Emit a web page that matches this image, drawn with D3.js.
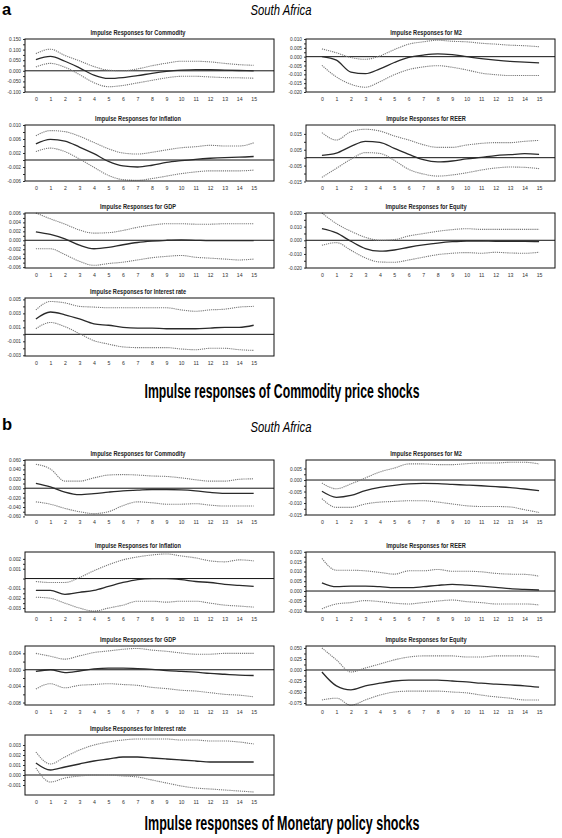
<!DOCTYPE html>
<html><head><meta charset="utf-8">
<script src="https://cdn.jsdelivr.net/npm/d3@7"></script>
<style>body{margin:0;background:#fff}svg{display:block}</style>
</head><body>
<svg id="c" width="562" height="838"></svg>
<script>
// ---------- data ----------
const periods = [0,1,2,3,4,5,6,7,8,9,10,11,12,13,14,15];
const panelTitles = ["Impulse Responses for Commodity","Impulse Responses for M2","Impulse Responses for Inflation","Impulse Responses for REER","Impulse Responses for GDP","Impulse Responses for Equity","Impulse Responses for Interest rate"];
const figureLetters = ["a","b"];
const countryTitle = "South Africa";
const shockTitles = ["Impulse responses of Commodity price shocks","Impulse responses of Monetary policy shocks"];

// (a) commodity price shock
const aCommodityResp  = [0.053,0.068,0.045,0.014,-0.020,-0.036,-0.032,-0.023,-0.012,-0.003,0.003,0.006,0.005,0.003,0.0015,0.000];
const aCommodityUpper = [0.081,0.102,0.072,0.047,0.020,0.003,0.000,0.009,0.024,0.036,0.045,0.045,0.042,0.035,0.029,0.026];
const aCommodityLower = [0.018,0.035,0.017,-0.018,-0.056,-0.075,-0.069,-0.057,-0.045,-0.033,-0.026,-0.026,-0.029,-0.032,-0.033,-0.035];
const aCommodityTicks = ["0.150","0.100","0.050","0.000","-0.050","-0.100"];
const aCommodityRange = [-0.100,0.150];

const aM2Resp  = [0,-0.002,-0.0087,-0.0096,-0.0069,-0.0033,-0.0004,0.0009,0.0016,0.0011,0,-0.0011,-0.002,-0.0027,-0.0031,-0.0035];
const aM2Upper = [0.0044,0.0022,-0.0005,-0.0015,0.0004,0.004,0.0071,0.0084,0.0093,0.0087,0.0084,0.0076,0.0071,0.0065,0.0062,0.0056];
const aM2Lower = [-0.0049,-0.0115,-0.0156,-0.0173,-0.0142,-0.0102,-0.0073,-0.0058,-0.0051,-0.006,-0.0075,-0.0093,-0.0102,-0.0107,-0.0107,-0.0107];
const aM2Ticks = ["0.010","0.005","0.000","-0.005","-0.010","-0.015","-0.020"];
const aM2Range = [-0.020,0.010];

const aInflationResp  = [0.0046,0.0059,0.0054,0.0037,0.0018,-0.0004,-0.0017,-0.002,-0.0015,-0.0007,-0.0002,0.0002,0.0005,0.0007,0.0008,0.001];
const aInflationUpper = [0.0069,0.0084,0.0081,0.0068,0.005,0.0032,0.002,0.0017,0.0022,0.0029,0.0035,0.0038,0.0042,0.004,0.004,0.0049];
const aInflationLower = [0.0024,0.0034,0.0024,0.0003,-0.0021,-0.0044,-0.0056,-0.0058,-0.0053,-0.0046,-0.0039,-0.0034,-0.0031,-0.0031,-0.0031,-0.0029];
const aInflationTicks = ["0.010","0.006","0.002","-0.002","-0.006"];
const aInflationRange = [-0.006,0.010];

const aReerResp  = [0.0015,0.0029,0.0071,0.0103,0.0097,0.0059,0.0021,-0.0013,-0.0027,-0.0021,-0.0008,0.0002,0.0013,0.0019,0.0025,0.0021];
const aReerUpper = [0.0158,0.0111,0.0164,0.0179,0.0168,0.0137,0.0111,0.0082,0.0065,0.0065,0.008,0.009,0.0095,0.0095,0.0103,0.0109];
const aReerLower = [-0.0124,-0.0067,-0.001,0.0032,0.0027,-0.0017,-0.0074,-0.0103,-0.0116,-0.0109,-0.0095,-0.0078,-0.0065,-0.0059,-0.0061,-0.0069];
const aReerTicks = ["0.015","0.005","-0.005","-0.015"];
const aReerRange = [-0.0147,0.0206];

const aGdpResp  = [0.0019,0.0013,0.0003,-0.0011,-0.0019,-0.0016,-0.001,-0.0005,-0.0002,0,0.0001,0,-0.0001,-0.0001,-0.0001,-0.0001];
const aGdpUpper = [0.0061,0.0048,0.0036,0.0023,0.0016,0.0017,0.0022,0.0029,0.0034,0.0037,0.0037,0.0036,0.0036,0.0037,0.0037,0.0037];
const aGdpLower = [-0.0019,-0.0019,-0.0032,-0.0047,-0.0056,-0.0052,-0.0049,-0.0044,-0.0039,-0.0036,-0.0034,-0.0038,-0.004,-0.0042,-0.0044,-0.0042];
const aGdpTicks = ["0.006","0.004","0.002","0.000","-0.002","-0.004","-0.006"];
const aGdpRange = [-0.0062,0.0061];

const aEquityResp  = [0.0085,0.0054,-0.0007,-0.0061,-0.008,-0.0071,-0.0051,-0.0034,-0.002,-0.001,-0.0005,-0.0005,-0.0007,-0.0007,-0.0007,-0.001];
const aEquityUpper = [0.020,0.0122,0.0066,0.0022,0,0.0005,0.0032,0.0049,0.0066,0.0078,0.0085,0.008,0.008,0.008,0.008,0.008];
const aEquityLower = [-0.0037,-0.0017,-0.0073,-0.0129,-0.0159,-0.0161,-0.0144,-0.0124,-0.0105,-0.0095,-0.009,-0.0095,-0.0088,-0.0093,-0.0095,-0.0088];
const aEquityTicks = ["0.020","0.010","0.000","-0.010","-0.020"];
const aEquityRange = [-0.0203,0.020];

const aInterestResp  = [0.0022,0.0032,0.0028,0.0022,0.0015,0.0013,0.001,0.0009,0.0009,0.0008,0.0008,0.0008,0.0009,0.001,0.001,0.0013];
const aInterestUpper = [0.0035,0.0047,0.0045,0.004,0.0039,0.0038,0.0038,0.0038,0.0038,0.0038,0.0035,0.0033,0.0035,0.0036,0.0039,0.004];
const aInterestLower = [0.0008,0.0017,0.0011,0.0001,-0.0009,-0.0014,-0.0018,-0.0019,-0.0019,-0.0019,-0.0021,-0.0022,-0.002,-0.002,-0.0022,-0.0023];
const aInterestTicks = ["0.005","0.003","0.001","-0.001","-0.003"];
const aInterestRange = [-0.0031,0.0052];

// (b) monetary policy shock
const bCommodityResp  = [0.0103,0.0028,-0.0083,-0.0138,-0.0117,-0.0083,-0.0055,-0.0041,-0.0028,-0.0028,-0.0034,-0.0055,-0.009,-0.011,-0.011,-0.011];
const bCommodityUpper = [0.051,0.041,0.015,0.015,0.022,0.028,0.029,0.028,0.026,0.025,0.022,0.018,0.015,0.015,0.019,0.020];
const bCommodityLower = [-0.029,-0.034,-0.043,-0.050,-0.054,-0.050,-0.037,-0.029,-0.031,-0.034,-0.034,-0.033,-0.036,-0.038,-0.038,-0.038];
const bCommodityTicks = ["0.060","0.040","0.020","0.000","-0.020","-0.040","-0.060"];
const bCommodityRange = [-0.057,0.060];

const bM2Resp  = [-0.0049,-0.0075,-0.0067,-0.0046,-0.0032,-0.0023,-0.0017,-0.0015,-0.0016,-0.0019,-0.0022,-0.0025,-0.0029,-0.0033,-0.0039,-0.0046];
const bM2Upper = [-0.0013,-0.0038,-0.0017,0.0009,0.0035,0.0052,0.007,0.007,0.0067,0.0067,0.0071,0.0074,0.0074,0.0077,0.0077,0.007];
const bM2Lower = [-0.0081,-0.0119,-0.0119,-0.0104,-0.0096,-0.0093,-0.009,-0.009,-0.0096,-0.0104,-0.0112,-0.0115,-0.0115,-0.0117,-0.0129,-0.0141];
const bM2Ticks = ["0.005","0.000","-0.005","-0.010","-0.015"];
const bM2Range = [-0.0152,0.0087];

const bInflationResp  = [-0.0012,-0.0012,-0.0016,-0.0014,-0.0012,-0.0008,-0.0004,-0.0001,0,0,-0.0001,-0.0003,-0.0004,-0.0006,-0.0007,-0.0008];
const bInflationUpper = [-0.0003,-0.0004,-0.0004,0.0001,0.0008,0.0014,0.0019,0.0022,0.0024,0.0025,0.0023,0.0021,0.0018,0.0017,0.0019,0.0018];
const bInflationLower = [-0.0019,-0.002,-0.0025,-0.003,-0.0033,-0.003,-0.0027,-0.0023,-0.0023,-0.0024,-0.0023,-0.0023,-0.0025,-0.0027,-0.0028,-0.0029];
const bInflationTicks = ["0.002","0.001","-0.001","-0.002","-0.003"];
const bInflationRange = [-0.0034,0.0027];

const bReerResp  = [0.0042,0.0022,0.0025,0.0025,0.0022,0.0017,0.0017,0.0022,0.0029,0.0034,0.003,0.0025,0.0019,0.0012,0.0008,0.0005];
const bReerUpper = [0.0166,0.0106,0.0106,0.0103,0.0095,0.0086,0.0103,0.0103,0.011,0.0101,0.0101,0.0098,0.009,0.0086,0.0085,0.0076];
const bReerLower = [-0.0091,-0.0066,-0.0059,-0.0049,-0.0054,-0.0062,-0.0066,-0.0059,-0.0051,-0.0046,-0.0054,-0.0059,-0.0066,-0.0066,-0.0066,-0.0071];
const bReerTicks = ["0.020","0.015","0.010","0.005","0.000","-0.005","-0.010"];
const bReerRange = [-0.0107,0.0199];

const bGdpResp  = [-0.0004,0,-0.0007,-0.0003,0.0002,0.0004,0.0004,0.0003,0.0001,-0.0002,-0.0004,-0.0006,-0.0009,-0.0011,-0.0013,-0.0014];
const bGdpUpper = [0.004,0.0033,0.0026,0.0034,0.0042,0.0046,0.005,0.0052,0.0048,0.0045,0.0041,0.0038,0.0038,0.004,0.004,0.004];
const bGdpLower = [-0.0047,-0.0034,-0.0044,-0.0038,-0.0036,-0.0034,-0.0036,-0.0038,-0.0043,-0.0046,-0.005,-0.0052,-0.0056,-0.006,-0.0062,-0.0066];
const bGdpTicks = ["0.004","0.000","-0.004","-0.008"];
const bGdpRange = [-0.0086,0.0058];

const bEquityResp  = [-0.0045,-0.036,-0.045,-0.036,-0.030,-0.025,-0.023,-0.023,-0.023,-0.025,-0.027,-0.030,-0.032,-0.034,-0.036,-0.039];
const bEquityUpper = [0.050,0.023,-0.0045,0.0045,0.0136,0.023,0.0295,0.032,0.032,0.032,0.0295,0.0295,0.032,0.032,0.032,0.0295];
const bEquityLower = [-0.068,-0.064,-0.080,-0.068,-0.057,-0.050,-0.048,-0.048,-0.048,-0.050,-0.052,-0.057,-0.061,-0.064,-0.068,-0.068];
const bEquityTicks = ["0.050","0.025","0.000","-0.025","-0.050","-0.075"];
const bEquityRange = [-0.0795,0.0545];

const bInterestResp  = [0.0012,0.0005,0.0008,0.0011,0.0014,0.0016,0.0018,0.0018,0.0017,0.0016,0.0015,0.0014,0.0013,0.0013,0.0013,0.0013];
const bInterestUpper = [0.0023,0.0011,0.0018,0.0025,0.003,0.0033,0.0035,0.0036,0.0036,0.0036,0.0035,0.0035,0.0034,0.0034,0.0033,0.0031];
const bInterestLower = [0.0007,-0.0007,-0.0003,-0.0001,0,0,-0.0001,-0.0002,-0.0005,-0.0008,-0.0011,-0.0013,-0.0014,-0.0015,-0.0016,-0.0017];
const bInterestTicks = ["0.003","0.002","0.001","0.000","-0.001"];
const bInterestRange = [-0.0020,0.0040];

// ---------- layout ----------
const svg = d3.select("#c");
const cols = {
  L: {x0: 25, x1: 274, tx: 138, dom: [-0.75, 16.4]},
  R: {x0: 306, x1: 555, tx: 426, dom: [-1.1, 16.1]}
};
const rowsA = [[39, 92], [125, 181], [213, 268], [298, 356]];
const rowsB = [[460, 515], [552, 612], [646, 705], [735, 795]];

const panels = [
  {t: panelTitles[0], c: "L", r: rowsA[0], resp: aCommodityResp, up: aCommodityUpper, lo: aCommodityLower, ticks: aCommodityTicks, range: aCommodityRange},
  {t: panelTitles[1], c: "R", r: rowsA[0], resp: aM2Resp, up: aM2Upper, lo: aM2Lower, ticks: aM2Ticks, range: aM2Range},
  {t: panelTitles[2], c: "L", r: rowsA[1], resp: aInflationResp, up: aInflationUpper, lo: aInflationLower, ticks: aInflationTicks, range: aInflationRange},
  {t: panelTitles[3], c: "R", r: rowsA[1], resp: aReerResp, up: aReerUpper, lo: aReerLower, ticks: aReerTicks, range: aReerRange},
  {t: panelTitles[4], c: "L", r: rowsA[2], resp: aGdpResp, up: aGdpUpper, lo: aGdpLower, ticks: aGdpTicks, range: aGdpRange},
  {t: panelTitles[5], c: "R", r: rowsA[2], resp: aEquityResp, up: aEquityUpper, lo: aEquityLower, ticks: aEquityTicks, range: aEquityRange},
  {t: panelTitles[6], c: "L", r: rowsA[3], resp: aInterestResp, up: aInterestUpper, lo: aInterestLower, ticks: aInterestTicks, range: aInterestRange},
  {t: panelTitles[0], c: "L", r: rowsB[0], resp: bCommodityResp, up: bCommodityUpper, lo: bCommodityLower, ticks: bCommodityTicks, range: bCommodityRange},
  {t: panelTitles[1], c: "R", r: rowsB[0], resp: bM2Resp, up: bM2Upper, lo: bM2Lower, ticks: bM2Ticks, range: bM2Range},
  {t: panelTitles[2], c: "L", r: rowsB[1], resp: bInflationResp, up: bInflationUpper, lo: bInflationLower, ticks: bInflationTicks, range: bInflationRange},
  {t: panelTitles[3], c: "R", r: rowsB[1], resp: bReerResp, up: bReerUpper, lo: bReerLower, ticks: bReerTicks, range: bReerRange},
  {t: panelTitles[4], c: "L", r: rowsB[2], resp: bGdpResp, up: bGdpUpper, lo: bGdpLower, ticks: bGdpTicks, range: bGdpRange},
  {t: panelTitles[5], c: "R", r: rowsB[2], resp: bEquityResp, up: bEquityUpper, lo: bEquityLower, ticks: bEquityTicks, range: bEquityRange},
  {t: panelTitles[6], c: "L", r: rowsB[3], resp: bInterestResp, up: bInterestUpper, lo: bInterestLower, ticks: bInterestTicks, range: bInterestRange}
];

const sans = "'Liberation Sans',Arial,'Noto Sans',sans-serif";

// text squeezed horizontally by factor k
function squeezed(parent, x, y, str, size, weight, style, k, fill) {
  const g = parent.append("g").attr("transform", `translate(${x},${y}) scale(${k},1)`);
  g.append("text").attr("text-anchor", "middle").attr("font-family", sans)
    .attr("font-weight", weight).attr("font-style", style).attr("font-size", size)
    .attr("fill", fill || "#000").text(str);
  return g;
}
function measure(str, size, weight, style) {
  const t = svg.append("text").attr("font-family", sans).attr("font-weight", weight)
    .attr("font-style", style).attr("font-size", size).text(str);
  const w = t.node().getComputedTextLength();
  t.remove();
  return w;
}
const titleK = 95 / measure(panelTitles[0], 7, "bold", "normal");

function drawPanel(p) {
  const col = cols[p.c];
  const [y0, y1] = p.r;
  const x = d3.scaleLinear().domain(col.dom).range([col.x0, col.x1]);
  const y = d3.scaleLinear().domain(p.range).range([y1, y0]);
  const g = svg.append("g");

  squeezed(g, col.tx, y0 - 4, p.t, 7, "bold", "normal", titleK, "#222");

  // y axis ticks
  const tv = p.ticks.map(Number);
  const minor = [];
  for (let i = 0; i < tv.length - 1; i++) minor.push((tv[i] + tv[i + 1]) / 2);
  const yAxis = d3.axisLeft(y).tickValues(tv).tickFormat((d, i) => p.ticks[i]).tickSize(2).tickPadding(2);
  const ag = g.append("g").attr("transform", `translate(${col.x0},0)`).call(yAxis);
  ag.select(".domain").remove();
  ag.selectAll("text").attr("font-family", sans).attr("font-size", 4.8).attr("fill", "#333");
  ag.selectAll("line").attr("stroke", "#333");
  const mg = g.append("g").attr("transform", `translate(${col.x0},0)`)
    .call(d3.axisLeft(y).tickValues(minor).tickFormat("").tickSize(2));
  mg.select(".domain").remove();
  mg.selectAll("line").attr("stroke", "#333");

  // x axis labels
  const xg = g.append("g").attr("transform", `translate(0,${y1})`)
    .call(d3.axisBottom(x).tickValues(periods).tickFormat(d3.format("d")).tickSize(0).tickPadding(5));
  xg.select(".domain").remove();
  xg.selectAll("text").attr("font-family", sans).attr("font-size", 5.2).attr("fill", "#333");

  // zero line
  g.append("line").attr("x1", col.x0).attr("x2", col.x1)
    .attr("y1", y(0)).attr("y2", y(0)).attr("stroke", "#111").attr("stroke-width", 1);

  const line = d3.line().x((d, i) => x(periods[i])).y(d => y(d)).curve(d3.curveMonotoneX);
  [p.up, p.lo].forEach(s => {
    g.append("path").attr("d", line(s)).attr("fill", "none")
      .attr("stroke", "#7a7a7a").attr("stroke-width", 1.1).attr("stroke-dasharray", "1.2,0.9");
  });
  g.append("path").attr("d", line(p.resp)).attr("fill", "none")
    .attr("stroke", "#2a2a2a").attr("stroke-width", 1.3);

  // frame
  g.append("rect").attr("x", col.x0).attr("y", y0).attr("width", col.x1 - col.x0).attr("height", y1 - y0)
    .attr("fill", "none").attr("stroke", "#111").attr("stroke-width", 1);
}
panels.forEach(drawPanel);

// figure headers
const countryK = 61 / measure(countryTitle, 14, "normal", "italic");
const heads = [{y: 14.5, ty: 15, sy: 398}, {y: 430, ty: 432, sy: 830}];
heads.forEach((h, i) => {
  svg.append("text").attr("x", 2).attr("y", h.y).attr("font-family", sans)
    .attr("font-weight", "bold").attr("font-size", 16.5).text(figureLetters[i]);
  squeezed(svg, 281, h.ty, countryTitle, 14, "normal", "italic", countryK, "#000");
  const k = 275 / measure(shockTitles[i], 21, "bold", "normal");
  squeezed(svg, 282, h.sy, shockTitles[i], 21, "bold", "normal", k, "#000");
});
</script>
</body></html>
